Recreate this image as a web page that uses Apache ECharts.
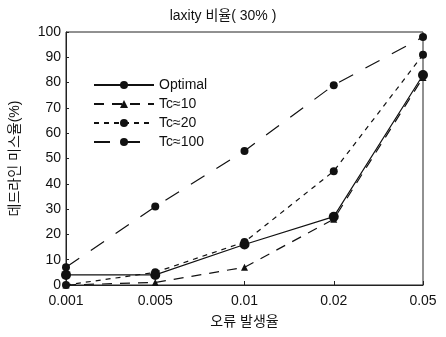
<!DOCTYPE html>
<html><head><meta charset="utf-8">
<script src="https://cdn.jsdelivr.net/npm/echarts@6/dist/echarts.min.js"></script>
<style>html,body{margin:0;padding:0;background:#fff}#c{width:446px;height:337px}</style>
</head><body><div id="c"></div>
<script>
const categories = ['0.001','0.005','0.01','0.02','0.05'];
const optimal = [4, 4, 16, 27, 83];
const tc10 = [0, 1, 7, 26, 82];
const tc20 = [0, 5, 17, 45, 91];
const tc100 = [7, 31, 53, 79, 98];
const seriesNames = ['Optimal','Tc≈10','Tc≈20','Tc≈100'];
const yTicks = [0,10,20,30,40,50,60,70,80,90,100];

const font = '"Liberation Sans", "Noto Sans CJK KR", sans-serif';
const chart = echarts.init(document.getElementById('c'));
function mk(name, data, symbol, size, type){
  return {name, type:'line', data, symbol, symbolSize:size,
    itemStyle:{color:'#111'},
    lineStyle:{color:'#111', width:1.2, type}};
}
chart.setOption({
  animation:false,
  title:{text:'laxity 비율( 30% )', left:'center', top:4,
    textStyle:{fontFamily:font, fontSize:14, fontWeight:'normal', color:'#111'}},
  grid:{left:66, right:23, top:32, bottom:52, show:true, borderColor:'#222', borderWidth:1},
  legend:{orient:'vertical', left:88, top:73, itemWidth:60, itemHeight:10, itemGap:5,
    textStyle:{fontFamily:font, fontSize:14, color:'#111'}, data:seriesNames},
  xAxis:{type:'category', data:categories, boundaryGap:false,
    name:'오류 발생율', nameLocation:'middle', nameGap:30,
    nameTextStyle:{fontFamily:font, fontSize:14, color:'#111'},
    axisLine:{lineStyle:{color:'#222'}},
    axisTick:{show:true, inside:true, length:4, lineStyle:{color:'#222'}},
    axisLabel:{fontFamily:font, fontSize:14, color:'#111', margin:9},
    splitLine:{show:false}},
  yAxis:{type:'value', min:0, max:100, interval:10,
    name:'데드라인 미스율(%)', nameLocation:'middle', nameGap:44, nameRotate:90,
    nameTextStyle:{fontFamily:font, fontSize:14, color:'#111'},
    axisLine:{show:true, lineStyle:{color:'#222'}},
    axisTick:{show:true, inside:true, length:3, lineStyle:{color:'#222'}},
    axisLabel:{fontFamily:font, fontSize:14, color:'#111', margin:5,
      formatter:v=>yTicks.includes(v)?String(v):''},
    splitLine:{show:false}},
  series:[
    mk(seriesNames[0], optimal, 'circle', 10, 'solid'),
    mk(seriesNames[1], tc10, 'triangle', 7, [10,8]),
    mk(seriesNames[2], tc20, 'circle', 8, [5,5]),
    mk(seriesNames[3], tc100, 'circle', 8, [16,14])
  ]
});
</script></body></html>
